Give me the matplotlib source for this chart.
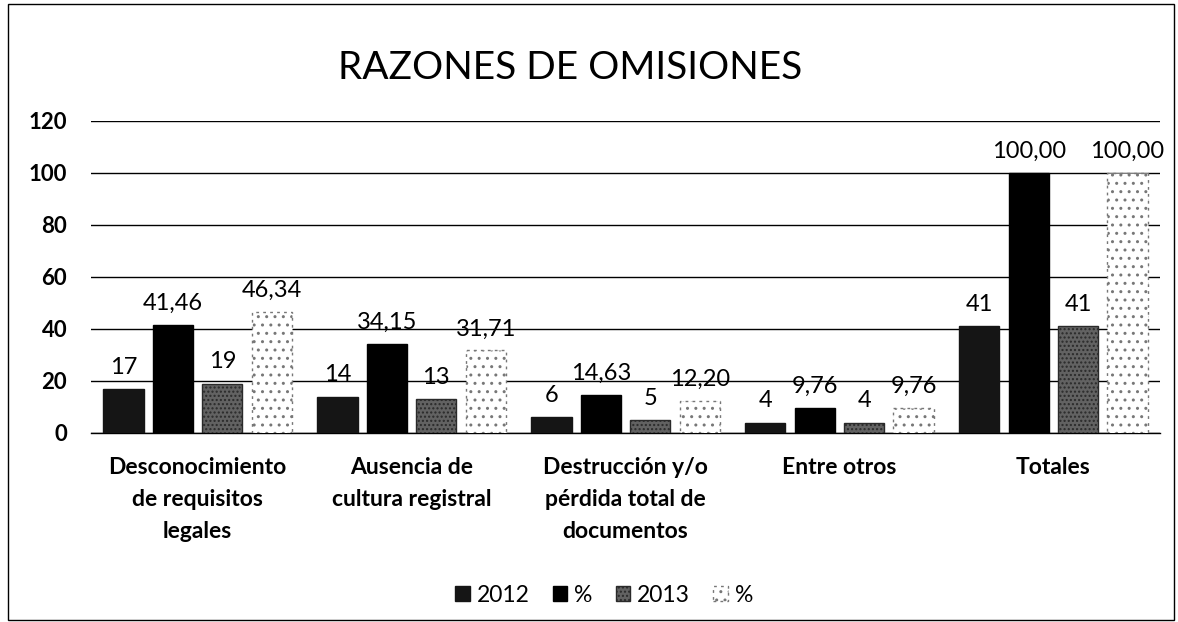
import numpy as np
import matplotlib.pyplot as plt
from matplotlib.patches import Rectangle

plt.rcParams['font.family'] = ['Lato', 'DejaVu Sans']
plt.rcParams['hatch.color'] = '#bbbbbb'

categories = ['Desconocimiento\nde requisitos\nlegales', 'Ausencia de\ncultura registral',
              'Destrucción y/o\npérdida total de\ndocumentos', 'Entre otros', 'Totales']
v2012 = [17, 14, 6, 4, 41]
p2012 = [41.46, 34.15, 14.63, 9.76, 100.00]
v2013 = [19, 13, 5, 4, 41]
p2013 = [46.34, 31.71, 12.20, 9.76, 100.00]
series_names = ['2012', '%', '2013', '%']

fig = plt.figure(figsize=(11.78, 6.22), dpi=100)
ax = fig.add_axes([0.077, 0.304, 0.908, 0.5015])

x = np.arange(len(categories))
w = 0.188
offsets = np.array([-1.5, -0.5, 0.5, 1.5]) * 0.231
styles = [
    dict(color='#151515', edgecolor='#151515'),
    dict(color='#000000', edgecolor='#000000'),
    dict(color='#626262', edgecolor='#2a2a2a', hatch='....'),
    dict(color='white', edgecolor='#777777', linestyle=(0, (2, 3)), hatch='..'),
]

data = [v2012, p2012, v2013, p2013]
for i, (vals, st) in enumerate(zip(data, styles)):
    bars = ax.bar(x + offsets[i], vals, w, label=series_names[i], linewidth=1, zorder=3, **st)
    labels = [f'{v:.2f}'.replace('.', ',') if i % 2 == 1 else str(v) for v in vals]
    ax.bar_label(bars, labels=labels, padding=8, fontsize=17, zorder=4)

ax.set_ylim(0, 120)
ax.set_yticks(range(0, 121, 20))
ax.set_xlim(-0.5, len(categories) - 0.5)
ax.grid(axis='y', color='black', linewidth=1, zorder=0)
ax.set_axisbelow(True)
for s in ['top', 'right', 'left']:
    ax.spines[s].set_visible(False)
ax.spines['bottom'].set_linewidth(1)
ax.tick_params(axis='y', length=0, labelsize=16, pad=17)
for t in ax.get_yticklabels():
    t.set_fontweight('bold')
ax.set_xticks(x)
ax.set_xticklabels(categories, fontsize=16.5, fontweight='bold', linespacing=1.65)
ax.tick_params(axis='x', length=0, pad=17)

fig.text(0.484, 0.89, 'RAZONES DE OMISIONES', ha='center', va='center', fontsize=28)

ax.legend(loc='upper center', bbox_to_anchor=(0.48, -0.42), ncol=4, frameon=False,
          fontsize=16.5, handlelength=0.65, handleheight=0.65, handletextpad=0.3, columnspacing=1.0)

fig.patches.append(Rectangle((0.007, 0.003), 0.99, 0.99, transform=fig.transFigure,
                             fill=False, edgecolor='black', linewidth=1))

fig.savefig('out.png', dpi=100)
